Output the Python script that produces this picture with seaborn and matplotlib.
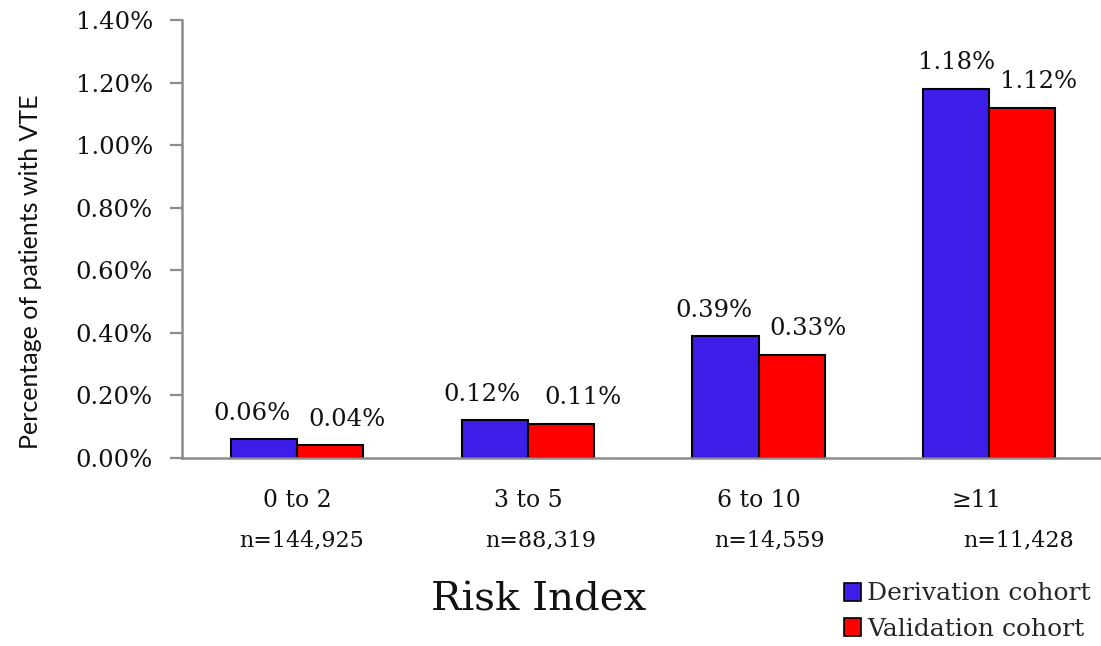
import matplotlib
matplotlib.use("Agg")
import matplotlib.pyplot as plt
import matplotlib.patches as mpatches
import matplotlib.transforms as mtransforms
import pandas as pd
import seaborn as sns

# Data: VTE rate (%) by risk-index band for the two cohorts
categories = ["0 to 2", "3 to 5", "6 to 10", "\u226511"]
group_sizes = ["n=144,925", "n=88,319", "n=14,559", "n=11,428"]
derivation = [0.06, 0.12, 0.39, 1.18]
validation = [0.04, 0.11, 0.33, 1.12]
cohorts = ["Derivation cohort", "Validation cohort"]
y_ticks = [0.0, 0.2, 0.4, 0.6, 0.8, 1.0, 1.2, 1.4]

df = pd.DataFrame({
    "Risk Index": categories * 2,
    "pct": derivation + validation,
    "cohort": [cohorts[0]] * len(categories) + [cohorts[1]] * len(categories),
})

sns.set_theme(style="white")
serif = ["DejaVu Serif"]
sans = ["Lato", "DejaVu Sans"]
plt.rcParams["font.family"] = serif

colors = {cohorts[0]: "#3c1ee8", cohorts[1]: "#ff0000"}
axis_grey = "#8c8c8c"
ink = "#111111"

fig = plt.figure(figsize=(11.01, 6.46), dpi=100)
ax = fig.add_axes([182 / 1101, 1 - 458 / 646, (1104.5 - 182) / 1101, (458 - 20) / 646])

sns.barplot(data=df, x="Risk Index", y="pct", hue="cohort", hue_order=cohorts,
            palette=colors, width=0.573, edgecolor="black", linewidth=1.5,
            saturation=1, legend=False, ax=ax)

ax.set_xlim(-0.5, len(categories) - 0.5)
ax.set_ylim(0, 1.4)
ax.set_yticks(y_ticks)
ax.set_yticklabels([f"{t:.2f}%" for t in y_ticks], fontsize=17.5, color=ink)
ax.set_xlabel("")
ax.set_ylabel("")

# tick marks at group boundaries, labels at group centres
ax.set_xticks([i - 0.5 for i in range(len(categories) + 1)])
ax.set_xticklabels([])
ax.set_xticks(range(len(categories)), minor=True)
ax.set_xticklabels(categories, minor=True, fontsize=17, color=ink)
ax.tick_params(axis="x", which="major", direction="out", length=8, width=1.6,
               color=axis_grey)
ax.tick_params(axis="x", which="minor", length=0, pad=22)
ax.tick_params(axis="y", direction="out", length=9, width=1.6, color=axis_grey,
               pad=12, left=True)

# the last category name sits a little left of its group centre
last = ax.get_xticklabels(minor=True)[-1]
last.set_transform(last.get_transform()
                   + mtransforms.ScaledTranslation(-13 / 100, 0, fig.dpi_scale_trans))

for side in ("top", "right"):
    ax.spines[side].set_visible(False)
for side in ("left", "bottom"):
    ax.spines[side].set_color(axis_grey)
    ax.spines[side].set_linewidth(1.8)

# value labels above each bar
blue_dx = [-9, -9, -8, 0]
red_dx = [12, 16, 12, 12]
for cont, dxs in zip(ax.containers, (blue_dx, red_dx)):
    for bar, dx in zip(cont, dxs):
        h = bar.get_height()
        ax.annotate(f"{h:.2f}%", (bar.get_x() + bar.get_width() / 2, h),
                    xytext=(dx, 14), textcoords="offset points",
                    ha="center", va="baseline", fontsize=17.5, color=ink)

# group sizes under the category names
n_dx = [3, 9, 8, 21]
for i, (lab, dx) in enumerate(zip(group_sizes, n_dx)):
    ax.annotate(lab, (i, 0), xycoords=("data", "axes fraction"),
                xytext=(dx, -59), textcoords="offset points",
                ha="center", va="center", fontsize=16, color=ink)

fig.text(539 / 1101, 1 - 600 / 646, "Risk Index", ha="center", va="center",
         fontsize=29, color=ink)
fig.text(31 / 1101, 1 - 272 / 646, "Percentage of patients with VTE",
         rotation=90, ha="center", va="center", fontsize=18,
         family=sans, color=ink)

handles = [mpatches.Patch(facecolor=colors[c], edgecolor="black", linewidth=1.2)
           for c in cohorts]
fig.legend(handles, cohorts, loc="upper left",
           bbox_to_anchor=(831 / 1101, 1 - 570 / 646), frameon=False,
           fontsize=18, handlelength=0.7, handleheight=0.7,
           handletextpad=0.25, labelspacing=0.48, borderpad=0)

fig.savefig("out.png", dpi=100)
